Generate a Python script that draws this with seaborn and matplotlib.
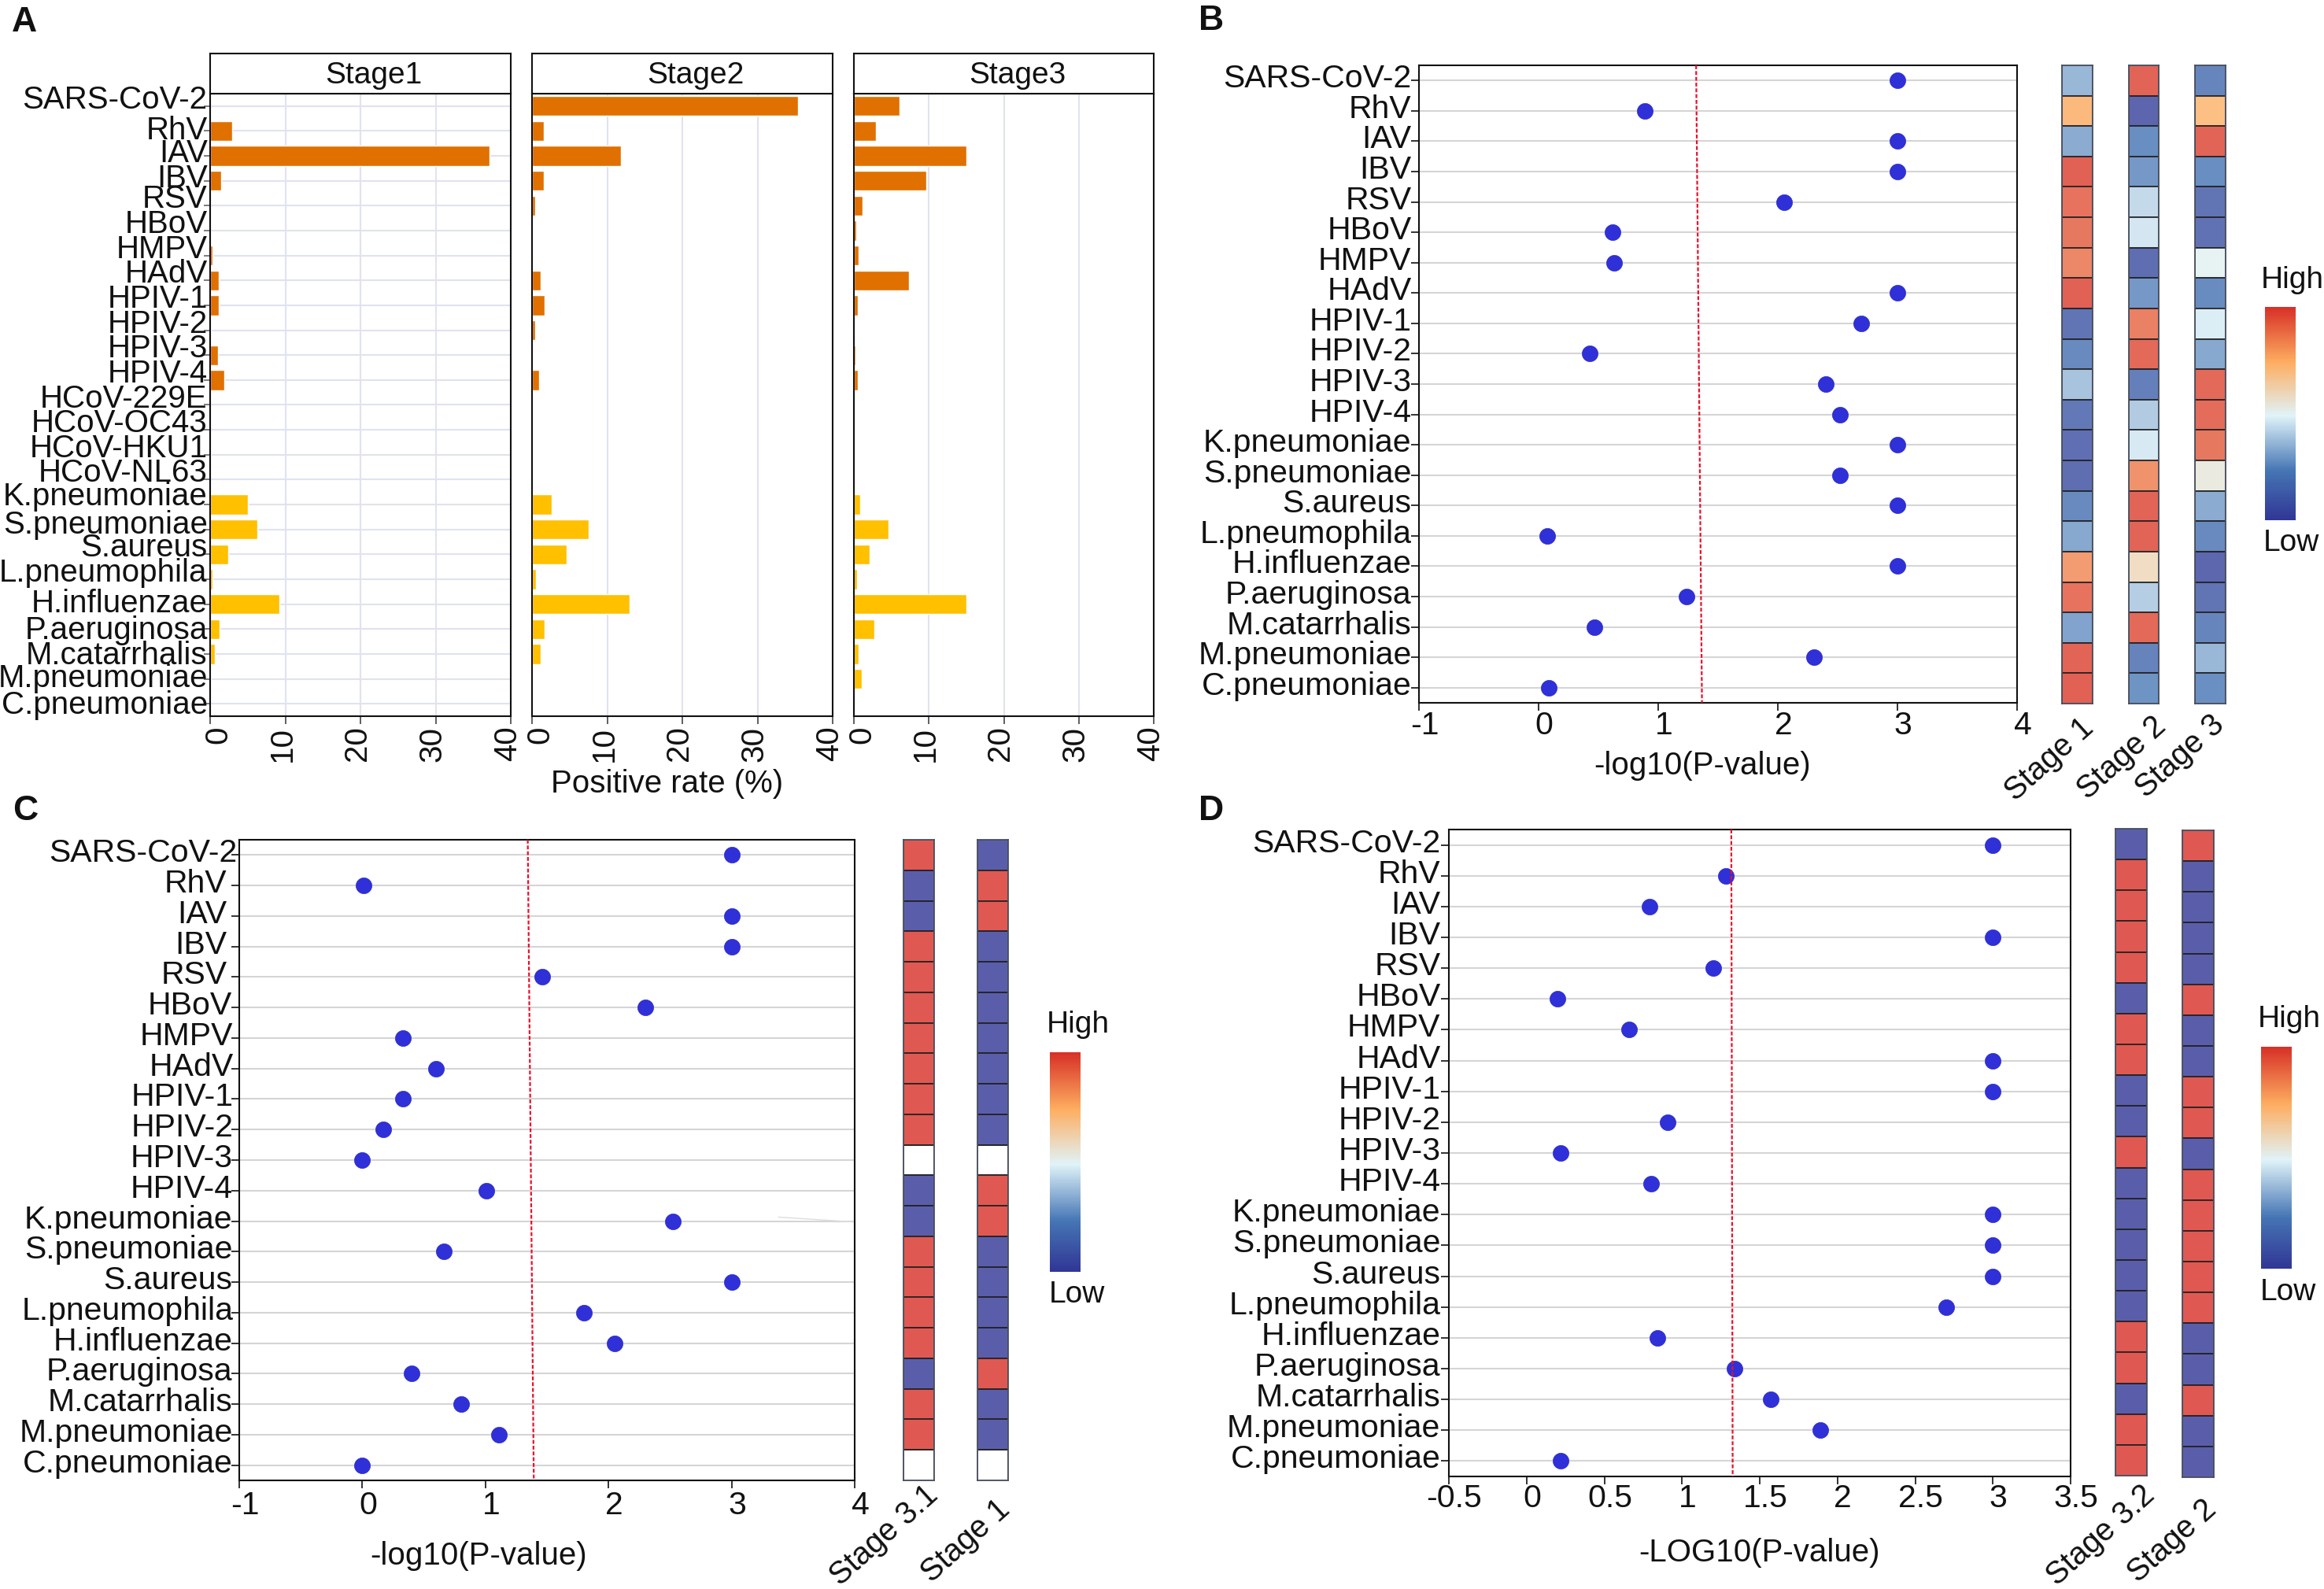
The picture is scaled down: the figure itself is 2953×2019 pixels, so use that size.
import numpy as np
import pandas as pd
import seaborn as sns
import matplotlib.pyplot as plt
from matplotlib.cm import ScalarMappable
from matplotlib.colors import LinearSegmentedColormap, Normalize
from matplotlib.transforms import ScaledTranslation

# panel A data
pathogens_a = ['SARS-CoV-2', 'RhV', 'IAV', 'IBV', 'RSV', 'HBoV', 'HMPV', 'HAdV', 'HPIV-1', 'HPIV-2',
               'HPIV-3', 'HPIV-4', 'HCoV-229E', 'HCoV-OC43', 'HCoV-HKU1', 'HCoV-NL63', 'K.pneumoniae',
               'S.pneumoniae', 'S.aureus', 'L.pneumophila', 'H.influenzae', 'P.aeruginosa',
               'M.catarrhalis', 'M.pneumoniae', 'C.pneumoniae']
groups_a = ['virus'] * 16 + ['bacteria'] * 9
rate_stage1 = [0, 2.9, 37.2, 1.5, 0, 0, 0.3, 1.2, 1.2, 0.1, 1.0, 1.9, 0, 0, 0.15, 0.05,
               5.0, 6.3, 2.4, 0.3, 9.2, 1.3, 0.6, 0.1, 0]
rate_stage2 = [35.4, 1.6, 11.8, 1.6, 0.4, 0.05, 0.05, 1.2, 1.7, 0.4, 0, 0.9, 0, 0, 0, 0,
               2.6, 7.5, 4.6, 0.5, 13.0, 1.7, 1.1, 0, 0]
rate_stage3 = [6.1, 2.9, 15.0, 9.7, 1.2, 0.3, 0.6, 7.4, 0.5, 0.1, 0.2, 0.5, 0, 0, 0, 0,
               0.8, 4.6, 2.1, 0.4, 15.0, 2.7, 0.6, 1.0, 0]
# hand placed labels in the original, px above the row centre
label_shift_a = [12, 4, 7, 7, 12, 12, 12, 12, 12, 12, 12, 12, 12, 12, 12, 12, 14, 10, 12, 12, 5, 2, 2, 5, 2]

# panels B, C, D data
pathogens = [p for p in pathogens_a if not p.startswith('HCoV')]

logp_b = [3, 0.89, 3, 3, 2.05, 0.62, 0.63, 3, 2.70, 0.43, 2.40, 2.52, 3, 2.52, 3, 0.07, 3, 1.24, 0.47, 2.30, 0.085]
logp_c = [3, 0.01, 3, 3, 1.46, 2.30, 0.33, 0.60, 0.33, 0.17, 0.0, 1.01, 2.52, 0.66, 3, 1.80, 2.05, 0.40, 0.80, 1.11, 0.0]
logp_d = [3, 1.28, 0.79, 3, 1.20, 0.20, 0.66, 3, 3, 0.91, 0.22, 0.80, 3, 3, 3, 2.70, 0.84, 1.34, 1.57, 1.89, 0.22]

cutoff_b = [1.317, 1.366]
cutoff_c = [1.344, 1.393]
cutoff_d = [1.317, 1.326]

heat_b_stage1 = [.33, .75, .30, .98, .93, .92, .88, .98, .10, .20, .36, .12, .08, .07, .20, .29, .83, .93, .28, .97, .98]
heat_b_stage2 = [.97, .03, .22, .25, .42, .45, .07, .25, .90, .96, .15, .38, .46, .85, .97, .97, .60, .39, .96, .17, .24]
heat_b_stage3 = [.18, .73, .97, .22, .10, .09, .50, .21, .47, .29, .96, .95, .92, .54, .30, .20, .04, .10, .18, .33, .23]

nan = np.nan
heat_c_stage31 = [1, 0, 0, 1, 1, 1, 1, 1, 1, 1, nan, 0, 0, 1, 1, 1, 1, 0, 1, 1, nan]
heat_c_stage1 = [0, 1, 1, 0, 0, 0, 0, 0, 0, 0, nan, 1, 1, 0, 0, 0, 0, 1, 0, 0, nan]
heat_d_stage32 = [0, 1, 1, 1, 1, 0, 1, 1, 0, 0, 1, 0, 0, 0, 0, 0, 1, 1, 0, 1, 1]
heat_d_stage2 = [1, 0, 0, 0, 0, 1, 0, 0, 1, 1, 0, 1, 1, 1, 1, 1, 0, 0, 1, 0, 0]

# panel C labels were nudged sideways by hand in the original, px
label_dx_c = [10, -3, -3, -3, -3, 3, 5, 5, 5, 5, 4, 4, 4, 4, 4, 5, 4, 4, 4, 4, 4]

W, H = 2953, 2019
TEXT = 29

sns.set_theme(style='white')
plt.rcParams['font.family'] = ['Liberation Sans', 'DejaVu Sans']
plt.rcParams['axes.linewidth'] = 1.5
plt.rcParams['axes.edgecolor'] = '#111111'
plt.rcParams['xtick.color'] = '#111111'
plt.rcParams['ytick.color'] = '#111111'
plt.rcParams['text.color'] = '#111111'

cmap = LinearSegmentedColormap.from_list('hl', [(0, '#313695'), (.23, '#4575b4'), (.49, '#e0f3f8'),
                                                (.74, '#fdae61'), (1, '#d73027')])

fig = plt.figure(figsize=(W / 100, H / 100), dpi=100, facecolor='white')


def add_ax(x0, y0, x1, y1):
    return fig.add_axes([x0 / W, 1 - y1 / H, (x1 - x0) / W, (y1 - y0) / H])


def px_text(x, y, s, size=TEXT, **kw):
    fig.text(x / W, 1 - y / H, s, fontsize=size, ha='center', va='center', **kw)


def shift(label, dx, dy):
    # dx, dy in px, y up
    label.set_transform(label.get_transform() + ScaledTranslation(dx / 100, dy / 100, fig.dpi_scale_trans))


def dot_panel(rect, values, cutoff, xticks, xticklabels, tick_up, label_dx):
    ax = add_ax(*rect)
    sns.stripplot(x=values, y=pathogens, orient='h', jitter=False, size=14.5, color='#3030d8',
                  edgecolor='#2a2ac8', linewidth=0.5, ax=ax, zorder=3)
    ax.set_axisbelow(True)
    ax.grid(axis='y', color='#d5d5d5', lw=1.5)
    ax.grid(axis='x', visible=False)
    ax.set_xlim(xticks[0], xticks[-1])
    ax.set_ylim(20.5, -0.5)
    ax.plot(cutoff, [-0.5, 20.5], color='#e8112d', lw=1.6, ls=(0, (2.2, 1.1)), zorder=4)
    ax.set_xticks(xticks)
    ax.set_xticklabels(xticklabels)
    ax.tick_params(axis='x', bottom=True, length=7, width=1.2, labelsize=29.5, pad=3)
    ax.tick_params(axis='y', left=True, length=7, width=1.2, labelsize=29.5, pad=2)
    for lab in ax.get_xticklabels():
        shift(lab, 7, tick_up)
    for lab, dx in zip(ax.get_yticklabels(), label_dx):
        shift(lab, dx, 6)
    return ax


def heat_col(rect, values, name, offset):
    ax = add_ax(*rect)
    frame = pd.DataFrame({name: values}, index=pathogens)
    sns.heatmap(frame, cmap=cmap, vmin=0, vmax=1, cbar=False, alpha=0.8, linewidths=1.2, linecolor='#222222',
                xticklabels=False, yticklabels=False, ax=ax)
    ax.set_facecolor('white')
    for s in ax.spines.values():
        s.set_visible(True)
        s.set_color('#4a5160')
        s.set_linewidth(1.3)
    ax.annotate(name, xy=(0.5, 0), xycoords='axes fraction', xytext=offset, textcoords='offset pixels',
                rotation=42, ha='right', va='center', rotation_mode='anchor', fontsize=28.5,
                annotation_clip=False)


def legend_bar(rect, high_xy, low_xy):
    cax = add_ax(*rect)
    cb = fig.colorbar(ScalarMappable(Normalize(0, 1), cmap), cax=cax, ticks=[])
    cb.outline.set_visible(False)
    px_text(*high_xy, 'High', size=28)
    px_text(*low_xy, 'Low', size=28)


# --- panel A ---
rates = pd.DataFrame({'pathogen': pathogens_a * 3, 'group': groups_a * 3,
                      'stage': ['Stage1'] * 25 + ['Stage2'] * 25 + ['Stage3'] * 25,
                      'rate': rate_stage1 + rate_stage2 + rate_stage3})
palette_a = {'virus': '#e07000', 'bacteria': '#ffc000'}
for i, (stage, x0, x1) in enumerate([('Stage1', 267, 649), ('Stage2', 676, 1058), ('Stage3', 1085, 1466)]):
    ax = add_ax(x0, 119, x1, 910)
    sns.barplot(data=rates[rates['stage'] == stage], x='rate', y='pathogen', hue='group', palette=palette_a,
                order=pathogens_a, dodge=False, width=0.8, saturation=1, legend=False, ax=ax)
    ax.set_axisbelow(True)
    ax.grid(True, color='#e0e3ef', lw=1.5)
    ax.set_xlim(0, 40)
    ax.set_ylim(24.5, -0.5)
    ax.set_xlabel('')
    ax.set_ylabel('')
    ax.set_xticks([0, 10, 20, 30, 40])
    ax.set_xticklabels(['0', '10', '20', '30', '40'], rotation=90)
    ax.tick_params(axis='x', bottom=True, length=7, width=1.2, labelsize=TEXT, pad=2, color='#444444')
    for k, lab in enumerate(ax.get_xticklabels()):
        shift(lab, 10 if k == 0 else -4, 0)
    if i == 0:
        ax.tick_params(axis='y', left=True, length=6, width=1.2, labelsize=TEXT, pad=0, color='#666666')
        for lab, up in zip(ax.get_yticklabels(), label_shift_a):
            shift(lab, 5, up)
    else:
        ax.set_yticks([])
    strip = add_ax(x0, 68, x1, 119)
    strip.set_xticks([])
    strip.set_yticks([])
    # titles sit a little right of the panel centre in the original
    strip.text(0.545, 0.46, stage, transform=strip.transAxes, ha='center', va='center', fontsize=28)
px_text(848, 996, 'Positive rate (%)')
px_text(31, 28, 'A', size=32, fontweight='bold')

# --- panel B ---
ticks_int = [-1, 0, 1, 2, 3, 4]
dot_panel((1803, 83, 2563, 893), logp_b, cutoff_b, ticks_int, [str(t) for t in ticks_int], 4, [3] * 21)
heat_col((2620, 83, 2659, 894), heat_b_stage1, 'Stage 1', (15, -26))
heat_col((2705, 83, 2743, 894), heat_b_stage2, 'Stage 2', (23, -24))
heat_col((2789, 83, 2828, 894), heat_b_stage3, 'Stage 3', (12, -21))
legend_bar((2878, 390, 2917, 661), (2913, 356), (2911, 690))
px_text(2163, 973, '-log10(P-value)')
px_text(1539, 27, 'B', size=32, fontweight='bold')

# --- panel C ---
ax_c = dot_panel((304, 1067, 1086, 1881), logp_c, cutoff_c, ticks_int, [str(t) for t in ticks_int], 1, label_dx_c)
# faint stray line on the K.pneumoniae row
ax_c.plot([3.38, 4.0], [11.87, 12.03], color='#dddddd', lw=1)
heat_col((1148, 1067, 1187, 1881), heat_c_stage31, 'Stage 3.1', (19, -13))
heat_col((1242, 1067, 1281, 1881), heat_c_stage1, 'Stage 1', (16, -32))
legend_bar((1334, 1337, 1373, 1616), (1370, 1302), (1368, 1645))
px_text(608, 1977, '-log10(P-value)')
px_text(32, 1031, 'C', size=32, fontweight='bold')

# --- panel D ---
ticks_half = [-0.5, 0, 0.5, 1, 1.5, 2, 2.5, 3, 3.5]
dot_panel((1841, 1054, 2631, 1876), logp_d, cutoff_d, ticks_half,
          ['-0.5', '0', '0.5', '1', '1.5', '2', '2.5', '3', '3.5'], 5, [2] * 21)
heat_col((2688, 1053, 2728, 1875), heat_d_stage32, 'Stage 3.2', (24, -19))
heat_col((2773, 1055, 2813, 1877), heat_d_stage2, 'Stage 2', (18, -36))
legend_bar((2873, 1330, 2912, 1612), (2909, 1295), (2907, 1642))
px_text(2235, 1973, '-LOG10(P-value)')
px_text(1539, 1031, 'D', size=32, fontweight='bold')

fig.savefig('out.png', dpi=100)
